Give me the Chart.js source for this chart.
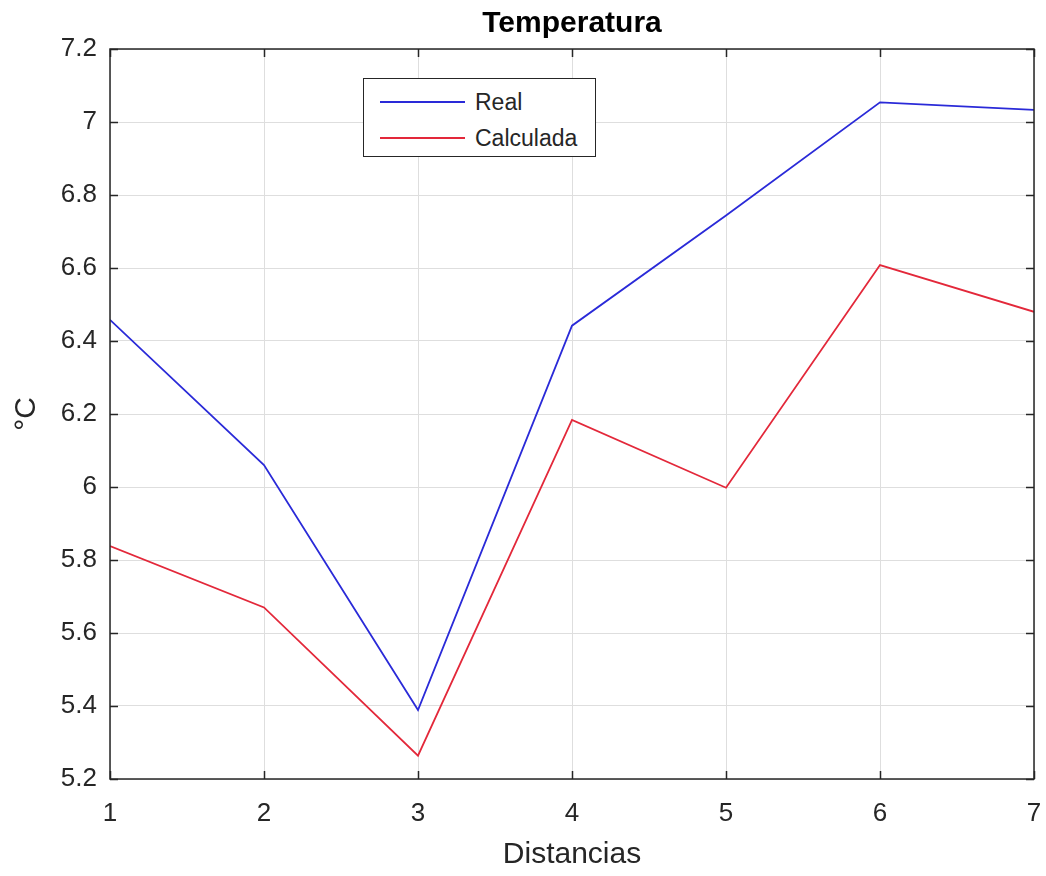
<!DOCTYPE html>
<html>
<head>
<meta charset="utf-8">
<title>Temperatura</title>
<script src="https://cdn.jsdelivr.net/npm/chart.js@4/dist/chart.umd.min.js"></script>
<style>
  html, body { margin: 0; padding: 0; background: #fff; }
  #wrap { position: relative; width: 1046px; height: 876px; }
  #legend {
    position: absolute; left: 363px; top: 78px; width: 231px; height: 77px;
    border: 1.5px solid #262626; background: #fff;
    font-family: "Liberation Sans", Arial, sans-serif; font-size: 23px; color: #262626;
  }
  #legend .item { position: absolute; left: 16px; height: 30px; line-height: 30px; }
  #legend .swatch { position: absolute; left: 0; top: 14px; width: 85px; height: 2px; }
  #legend .txt { position: absolute; left: 95px; top: 0; white-space: nowrap; }
</style>
</head>
<body>
<div id="wrap">
  <canvas id="c" width="1046" height="876"></canvas>
  <div id="legend"></div>
</div>
<script>
// distancias (eje x) y temperaturas en °C
var distancias = [1, 2, 3, 4, 5, 6, 7];
var real = [6.458, 6.060, 5.389, 6.442, 6.744, 7.054, 7.033];
var calculada = [5.838, 5.670, 5.264, 6.184, 5.998, 6.608, 6.480];

var titulo = 'Temperatura';
var etiquetaX = 'Distancias';
var etiquetaY = '\u00B0C';

var textColor = '#262626';
var fuente = '"Liberation Sans", Arial, sans-serif';

function puntos(ys) {
  var out = [];
  for (var i = 0; i < distancias.length; i++) {
    out.push({x: distancias[i], y: ys[i]});
  }
  return out;
}

// caja alrededor del area, marcas hacia dentro y titulo
var ejesMatlab = {
  id: 'ejesMatlab',
  afterDatasetsDraw: function(chart) {
    var ctx = chart.ctx;
    var a = chart.chartArea;
    var sx = chart.scales.x, sy = chart.scales.y;
    var tl = 8;
    ctx.save();
    ctx.strokeStyle = textColor;
    ctx.lineWidth = 1.5;
    ctx.beginPath();
    sx.ticks.forEach(function(t) {
      var px = Math.round(sx.getPixelForValue(t.value)) + 0.5;
      ctx.moveTo(px, a.bottom); ctx.lineTo(px, a.bottom - tl);
      ctx.moveTo(px, a.top); ctx.lineTo(px, a.top + tl);
    });
    sy.ticks.forEach(function(t) {
      var py = Math.round(sy.getPixelForValue(t.value)) + 0.5;
      ctx.moveTo(a.left, py); ctx.lineTo(a.left + tl, py);
      ctx.moveTo(a.right, py); ctx.lineTo(a.right - tl, py);
    });
    ctx.stroke();
    ctx.strokeRect(a.left, a.top, a.right - a.left, a.bottom - a.top);

    ctx.fillStyle = '#000';
    ctx.font = 'bold 30px ' + fuente;
    ctx.textAlign = 'center';
    ctx.textBaseline = 'alphabetic';
    ctx.fillText(titulo, (a.left + a.right) / 2, 32);
    ctx.restore();
  }
};

var chart = new Chart(document.getElementById('c'), {
  type: 'line',
  data: {
    datasets: [
      {label: 'Real', data: puntos(real), borderColor: '#2a2ad8', borderWidth: 1.8,
       pointRadius: 0, tension: 0, fill: false},
      {label: 'Calculada', data: puntos(calculada), borderColor: '#e3283a', borderWidth: 1.8,
       pointRadius: 0, tension: 0, fill: false}
    ]
  },
  options: {
    responsive: false,
    animation: false,
    layout: {padding: {top: 49, right: 0, left: 0, bottom: 0}},
    plugins: {
      legend: {display: false},
      tooltip: {enabled: false}
    },
    scales: {
      x: {
        type: 'linear', min: 1, max: 7,
        border: {display: false},
        grid: {color: '#dedede', lineWidth: 1, drawTicks: false},
        ticks: {stepSize: 1, padding: 19, color: textColor, font: {family: fuente, size: 26}},
        title: {display: true, text: etiquetaX, color: textColor,
                font: {family: fuente, size: 30}, padding: {top: 0, bottom: 3}},
        afterFit: function(s) { s.height = 97; s.paddingLeft = 0; s.paddingRight = 12; }
      },
      y: {
        min: 5.2, max: 7.2,
        border: {display: false},
        grid: {color: '#dedede', lineWidth: 1, drawTicks: false},
        ticks: {stepSize: 0.2, padding: 13, color: textColor, font: {family: fuente, size: 26},
                callback: function(v) { return String(+v.toFixed(1)); }},
        title: {display: true, text: etiquetaY, color: textColor,
                font: {family: fuente, size: 30}, padding: {top: 9, bottom: 0}},
        afterFit: function(s) { s.width = 110; s.paddingTop = 0; s.paddingBottom = 0; }
      }
    }
  },
  plugins: [ejesMatlab]
});

// leyenda dentro del area
var leg = document.getElementById('legend');
chart.data.datasets.forEach(function(ds, i) {
  var item = document.createElement('div');
  item.className = 'item';
  item.style.top = (8 + i * 36) + 'px';
  var sw = document.createElement('span');
  sw.className = 'swatch';
  sw.style.background = ds.borderColor;
  var tx = document.createElement('span');
  tx.className = 'txt';
  tx.textContent = ds.label;
  item.appendChild(sw);
  item.appendChild(tx);
  leg.appendChild(item);
});
</script>
</body>
</html>
